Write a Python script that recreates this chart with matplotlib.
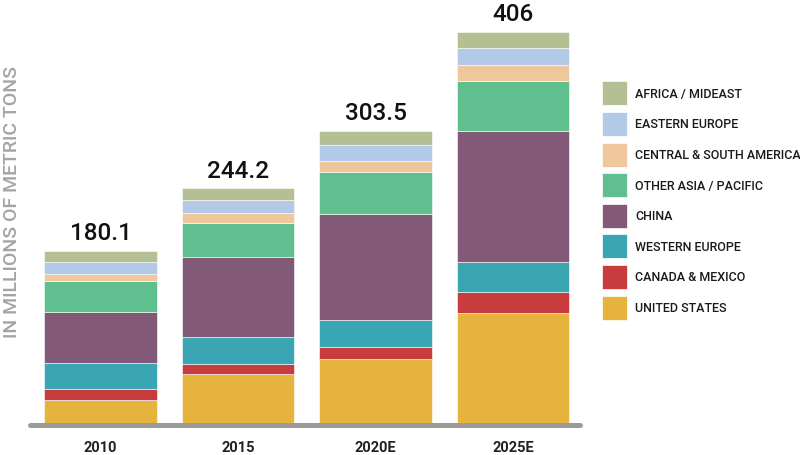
import matplotlib.pyplot as plt
from matplotlib.patches import Rectangle
import numpy as np

plt.rcParams['font.family'] = ['Roboto', 'DejaVu Sans']

# data (millions of metric tons), bottom to top
years = ['2010', '2015', '2020E', '2025E']
totals = ['180.1', '244.2', '303.5', '406']
regions = ['UNITED STATES', 'CANADA & MEXICO', 'WESTERN EUROPE', 'CHINA',
           'OTHER ASIA / PACIFIC', 'CENTRAL & SOUTH AMERICA', 'EASTERN EUROPE',
           'AFRICA / MIDEAST']
united_states = [25.6, 52.9, 68.3, 115.8]
canada_mexico = [11.1, 10.4, 11.7, 21.3]
western_europe = [26.7, 27.1, 28.2, 31.0]
china = [53.3, 83.3, 109.6, 135.9]
other_asia = [32.2, 34.4, 43.4, 51.7]
central_south_am = [7.3, 10.4, 11.1, 16.5]
eastern_europe = [12.5, 14.3, 16.5, 17.0]
africa_mideast = [11.4, 11.5, 14.7, 16.5]
series = [united_states, canada_mexico, western_europe, china, other_asia,
          central_south_am, eastern_europe, africa_mideast]
colors = ['#e6b43c', '#c83c3e', '#3aa6b4', '#825a78', '#5fbf8f',
          '#f0c79c', '#b3c9e8', '#b5bf94']

fig = plt.figure(figsize=(8, 4.56), dpi=100)
ax = fig.add_axes([0.038, 0.0662, 0.6875, 0.9338])

x = np.arange(len(years))
bottom = np.zeros(len(years))
for vals, c in zip(series, colors):
    ax.bar(x, vals, width=0.815, bottom=bottom, color=c, edgecolor='white',
           linewidth=0.4, zorder=1)
    bottom += np.array(vals)

for xi, top, lab in zip(x, bottom, totals):
    ax.annotate(lab, (xi, top), xytext=(0, 8.5), textcoords='offset points',
                ha='center', va='baseline', fontsize=17.5, fontweight='medium',
                color='#111111')

ax.set_xlim(-0.51, 3.49)
ax.set_ylim(0, 440)
ax.set_xticks(x)
ax.set_xticklabels(years, fontsize=10.5, fontweight='bold', color='#222222')
ax.tick_params(axis='x', length=0, pad=11)
ax.set_yticks([])
for s in ['top', 'right', 'left']:
    ax.spines[s].set_visible(False)
ax.spines['bottom'].set_linewidth(3.6)
ax.spines['bottom'].set_color('#9a9a9a')
ax.spines['bottom'].set_capstyle('round')

fig.text(12 / 800, 1 - 202 / 456, 'IN MILLIONS OF METRIC TONS', rotation=90,
         ha='center', va='center', fontsize=14, fontweight='medium',
         color='#a4a4a4')

# legend, top to bottom
for i, (name, c) in enumerate(zip(regions[::-1], colors[::-1])):
    yc = 94.3 + 30.6 * i
    fig.add_artist(Rectangle((602 / 800, 1 - (yc + 12) / 456), 25 / 800, 24 / 456,
                             transform=fig.transFigure, facecolor=c,
                             edgecolor='white', linewidth=0.5))
    fig.text(635 / 800, 1 - yc / 456, name, ha='left', va='center',
             fontsize=9, fontweight='medium', color='#1a1a1a')

fig.savefig('out.png', dpi=100)
